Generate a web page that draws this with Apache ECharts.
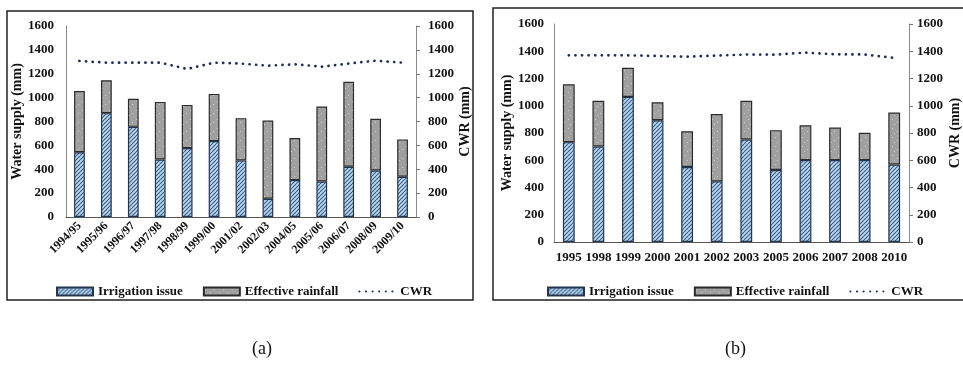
<!DOCTYPE html>
<html>
<head>
<meta charset="utf-8">
<script src="https://cdn.jsdelivr.net/npm/echarts@6/dist/echarts.min.js"></script>
<style>
  html, body { margin: 0; padding: 0; background: #fff; }
  #chart { width: 963px; height: 371px; }
</style>
</head>
<body>
<div id="chart"></div>
<script>
// Panel (a): seasons
var catsA = ['1994/95','1995/96','1996/97','1997/98','1998/99','1999/00','2001/02','2002/03','2004/05','2005/06','2006/07','2008/09','2009/10'];
var irrigationA = [543, 870, 755, 482, 577, 636, 474, 153, 309, 298, 421, 390, 337];
var rainfallA   = [513, 276, 235, 482, 362, 395, 354, 655, 352, 627, 711, 432, 313];
var cwrA        = [1307, 1293, 1293, 1293, 1240, 1293, 1285, 1268, 1279, 1260, 1285, 1310, 1293];

// Panel (b): years
var catsB = ['1995','1998','1999','2000','2001','2002','2003','2005','2006','2007','2008','2010'];
var irrigationB = [733, 701, 1065, 894, 550, 445, 752, 528, 601, 601, 601, 569];
var rainfallB   = [425, 335, 213, 132, 263, 495, 284, 293, 256, 239, 200, 381];
var cwrB        = [1370, 1370, 1370, 1365, 1360, 1368, 1376, 1375, 1390, 1378, 1376, 1352];

var yTicks = { min: 0, max: 1600, interval: 200 };

var SERIF = '"Liberation Serif", "DejaVu Serif", serif';
var LINE_COLOR = '#1c2a5c';

// Diagonal hatch fill for irrigation bars
function hatchPattern() {
  var s = 4, c = document.createElement('canvas');
  c.width = s; c.height = s;
  var g = c.getContext('2d');
  g.fillStyle = '#b9d5ee';
  g.fillRect(0, 0, s, s);
  g.strokeStyle = '#3b5d86';
  g.lineWidth = 1.1;
  [-s, 0, s].forEach(function (o) {
    g.beginPath();
    g.moveTo(o, s); g.lineTo(o + s, 0);
    g.stroke();
  });
  return { image: c, repeat: 'repeat' };
}

// Speckled grey fill for effective rainfall bars
function speckPattern() {
  var s = 9, c = document.createElement('canvas');
  c.width = s; c.height = s;
  var g = c.getContext('2d');
  g.fillStyle = '#a0a0a0';
  g.fillRect(0, 0, s, s);
  g.fillStyle = '#c9c9c9';
  g.fillRect(1, 2, 1, 1);
  g.fillRect(6, 5, 1, 1);
  g.fillRect(3, 7, 1, 1);
  return { image: c, repeat: 'repeat' };
}

var hatch = hatchPattern();
var speck = speckPattern();

var labelStyle = { fontFamily: SERIF, fontWeight: 'bold', fontSize: 13, color: '#111' };

function valueAxis(grid, pos, name, gap, labelMargin, showTicks) {
  return {
    type: 'value', gridIndex: grid, position: pos,
    min: yTicks.min, max: yTicks.max, interval: yTicks.interval,
    name: name, nameLocation: 'middle', nameGap: gap, nameRotate: 90,
    nameTextStyle: { fontFamily: SERIF, fontWeight: 'bold', fontSize: 14, color: '#111' },
    axisLine: { show: true, lineStyle: { color: '#8a8a8a', width: 1 } },
    axisTick: { show: showTicks, length: 4, lineStyle: { color: '#777' } },
    axisLabel: Object.assign({ margin: labelMargin, formatter: function (v) { return String(v); } }, labelStyle),
    splitLine: { show: false }
  };
}

function barSeries(name, xi, yi, data, fill, border) {
  return {
    name: name, type: 'bar', stack: 'ws' + xi,
    xAxisIndex: xi, yAxisIndex: yi, data: data,
    barWidth: '40%',
    itemStyle: { color: fill, borderColor: border, borderWidth: 1.2 },
    emphasis: { disabled: true }
  };
}

function cwrSeries(xi, yi, data) {
  return {
    name: 'CWR', type: 'line', xAxisIndex: xi, yAxisIndex: yi, data: data,
    symbol: 'none', smooth: false,
    itemStyle: { color: LINE_COLOR },
    lineStyle: { color: LINE_COLOR, width: 2.7, type: [0.1, 6.5], cap: 'round' },
    z: 5
  };
}

var legendText = { fontFamily: SERIF, fontWeight: 'bold', fontSize: 13, color: '#111' };

function legendItems() {
  return [
    { name: 'Irrigation issue', icon: 'rect' },
    { name: 'Effective rainfall', icon: 'rect' },
    { name: 'CWR', itemStyle: { opacity: 0 } }
  ];
}

var option = {
  backgroundColor: '#fff',
  animation: false,
  grid: [
    { left: 66, top: 26, width: 350, height: 191 },
    { left: 554, top: 24, width: 364, height: 218 }
  ],
  xAxis: [
    {
      type: 'category', gridIndex: 0, data: catsA,
      axisLine: { lineStyle: { color: '#555', width: 1 } },
      axisTick: { show: false },
      axisLabel: { rotate: 45, margin: 7, interval: 0, fontSize: 12, fontFamily: SERIF, fontWeight: 'bold', color: '#111' }
    },
    {
      type: 'category', gridIndex: 1, data: catsB,
      axisLine: { lineStyle: { color: '#555', width: 1 } },
      axisTick: { show: false },
      axisLabel: Object.assign({ margin: 9, interval: 0 }, labelStyle)
    }
  ],
  yAxis: [
    valueAxis(0, 'left', 'Water supply (mm)', 42, 12, false),
    valueAxis(0, 'right', 'CWR (mm)', 37, 12, true),
    valueAxis(1, 'left', 'Water supply (mm)', 37, 10, false),
    valueAxis(1, 'right', 'CWR (mm)', 39, 8, true)
  ],
  legend: [
    {
      left: 51, top: 280, itemWidth: 36, itemHeight: 8, itemGap: 20,
      textStyle: legendText,
      data: legendItems()
    },
    {
      left: 542, top: 280, itemWidth: 36, itemHeight: 8, itemGap: 20,
      textStyle: legendText,
      data: legendItems()
    }
  ],
  series: [
    barSeries('Irrigation issue', 0, 0, irrigationA, hatch, '#24364f'),
    barSeries('Effective rainfall', 0, 0, rainfallA, speck, '#2b2b2b'),
    cwrSeries(0, 1, cwrA),
    barSeries('Irrigation issue', 1, 2, irrigationB, hatch, '#24364f'),
    barSeries('Effective rainfall', 1, 2, rainfallB, speck, '#2b2b2b'),
    cwrSeries(1, 3, cwrB)
  ],
  graphic: [
    { type: 'rect', shape: { x: 7, y: 11, width: 466, height: 289 },
      style: { fill: 'none', stroke: '#222', lineWidth: 1.5 }, silent: true },
    { type: 'rect', shape: { x: 493, y: 8, width: 480, height: 292 },
      style: { fill: 'none', stroke: '#222', lineWidth: 1.5 }, silent: true },
    { type: 'text', left: 252, top: 340,
      style: { text: '(a)', font: '18px ' + SERIF, fill: '#111' } },
    { type: 'text', left: 725, top: 340,
      style: { text: '(b)', font: '18px ' + SERIF, fill: '#111' } }
  ]
};

var chart = echarts.init(document.getElementById('chart'), null, { renderer: 'canvas' });
chart.setOption(option);
</script>
</body>
</html>
